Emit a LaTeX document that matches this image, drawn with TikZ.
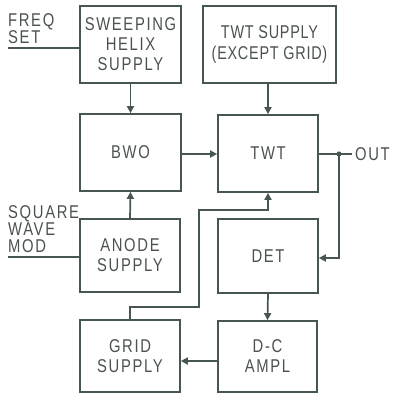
\documentclass[tikz,border=0pt]{standalone}
\usepackage{fontspec}
\newfontfamily\lbl[FakeStretch=0.8,LetterSpace=9]{Liberation Sans}
\newfontfamily\lbltight[FakeStretch=0.78,LetterSpace=4]{Liberation Sans}
\usetikzlibrary{arrows.meta,calc}
\definecolor{ink}{RGB}{72,86,82}
\definecolor{txt}{RGB}{74,82,80}
\begin{document}
\begin{tikzpicture}[x=1pt,y=-1pt,
  every node/.style={font=\lbl\fontsize{18.5}{20}\selectfont,text=txt},
  blk/.style={draw=ink,line width=1.7pt,rectangle,align=center,inner sep=0pt},
  wire/.style={draw=ink,line width=1.7pt},
  arr/.style={wire,-{Triangle[length=7pt,width=7pt]}},
  side/.style={align=left,inner sep=0pt,anchor=south west,font=\lbl\fontsize{18.5}{17}\selectfont}]
\useasboundingbox (0,0) rectangle (396,394);
\node[blk,minimum width=101pt,minimum height=77pt] (sweep) at (130.5,44.5) {SWEEPING\\HELIX\\SUPPLY};
\node[blk,minimum width=101pt,minimum height=77pt] (bwo) at (130.5,152.5) {BWO};
\node[blk,minimum width=100pt,minimum height=73pt] (anode) at (130,255.5) {ANODE\\SUPPLY};
\node[blk,minimum width=100pt,minimum height=72pt] (grid) at (130,356) {GRID\\SUPPLY};
\node[blk,minimum width=133pt,minimum height=77pt,font=\lbltight\fontsize{18.5}{21}\selectfont] (twts) at (269.5,44.5) {TWT SUPPLY\\(EXCEPT GRID)};
\node[blk,minimum width=100pt,minimum height=77pt] (twt) at (268,153.5) {TWT};
\node[blk,minimum width=100pt,minimum height=74pt] (det) at (268,256) {DET};
\node[blk,minimum width=99pt,minimum height=71pt] (dca) at (267.5,356.5) {D-C\\AMPL};
\node[side] (freq) at (8,44) {FREQ\\SET};
\node[side] (sq) at (8,253) {SQUARE\\WAVE\\MOD};
\coordinate (fin) at (8,48);
\coordinate (sin) at (8,257);
\coordinate (j) at (339,154);
\coordinate (oend) at (352,154);
\node[anchor=west,inner sep=0pt] (out) at (355,154) {OUT};
\draw[wire] (fin) -- (fin -| sweep.west);
\draw[wire] (sin) -- (sin -| anode.west);
\draw[arr] (sweep.south) -- (bwo.north);
\draw[arr] (anode.north) -- (bwo.south);
\draw[arr] (bwo.east |- j) -- (twt.west |- j);
\draw[arr] (twt.north |- twts.south) -- (twt.north);
\draw[wire] (twt.east |- j) -- (j) -- (oend);
\fill[ink] (j) circle (2.6pt);
\draw[arr] (j) -- ($(j |- det.east)+(0,2)$) -- ($(det.east)+(0,2)$);
\draw[arr] (det.south) -- (dca.north);
\draw[arr] ($(dca.west)+(0,4.5)$) -- ($(grid.east)+(0,5)$);
\draw[arr] (grid.north) -- (130,307) -- (199,307) -- (199,210) -- (268,210) -- (twt.south);
\end{tikzpicture}
\end{document}
